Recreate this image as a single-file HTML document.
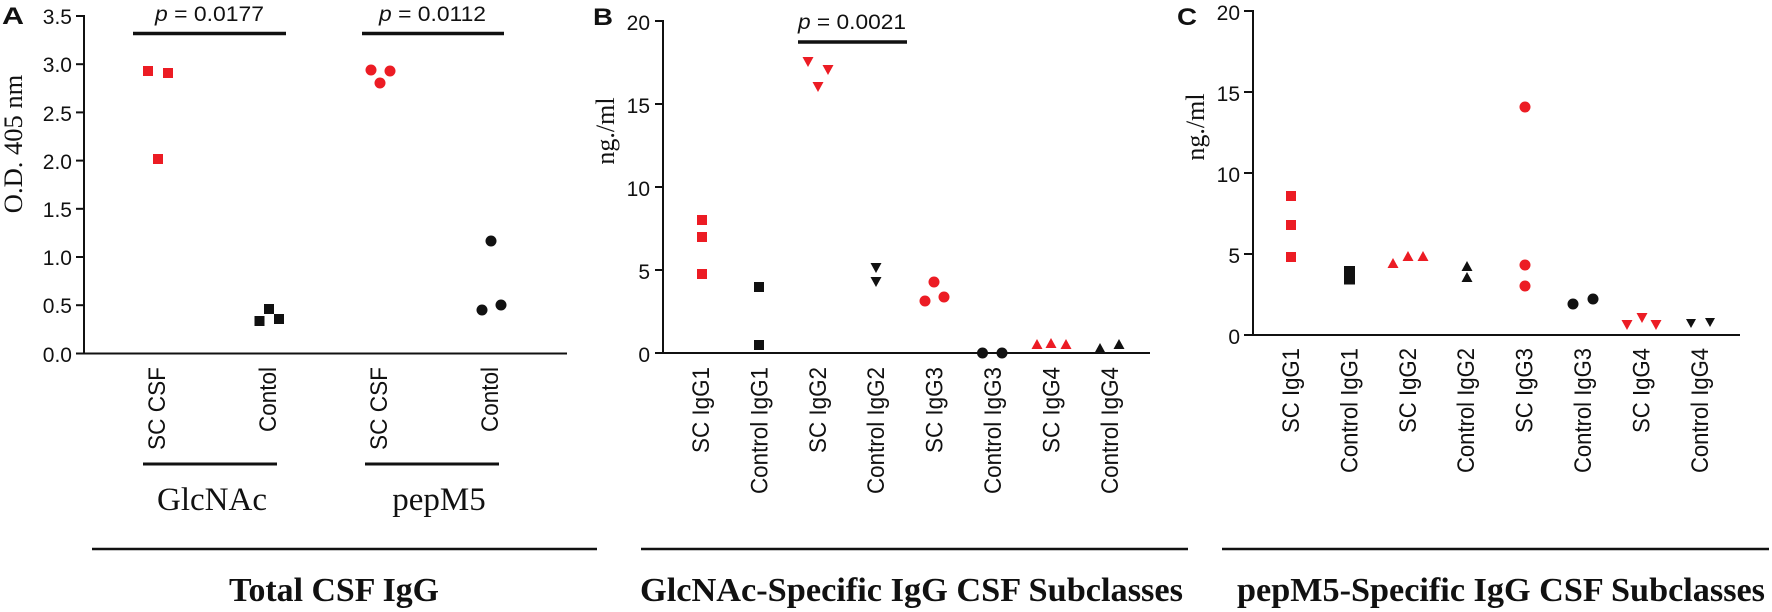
<!DOCTYPE html>
<html><head><meta charset="utf-8"><style>
html,body{margin:0;padding:0;background:#fff;}
svg{display:block;}
.t{font-family:"Liberation Sans",Arial,sans-serif;font-size:21px;fill:#111;}
.r{font-family:"Liberation Sans",Arial,sans-serif;font-size:24px;fill:#111;}
.s{font-family:"Liberation Serif","Times New Roman",serif;fill:#111;}
.b{font-family:"Liberation Serif","Times New Roman",serif;font-weight:bold;font-size:34px;fill:#111;}
.L{font-family:"Liberation Sans",Arial,sans-serif;font-weight:bold;font-size:24px;fill:#111;}
</style></head><body>
<svg width="1772" height="612" viewBox="0 0 1772 612" xmlns="http://www.w3.org/2000/svg">
<g stroke="#111" fill="none">
<line x1="84" y1="15" x2="84" y2="354.5" stroke-width="2"/>
<line x1="83" y1="353.5" x2="567" y2="353.5" stroke-width="2"/>
<line x1="76" y1="16" x2="84" y2="16" stroke-width="2"/>
<line x1="76" y1="64.2" x2="84" y2="64.2" stroke-width="2"/>
<line x1="76" y1="112.4" x2="84" y2="112.4" stroke-width="2"/>
<line x1="76" y1="160.6" x2="84" y2="160.6" stroke-width="2"/>
<line x1="76" y1="208.8" x2="84" y2="208.8" stroke-width="2"/>
<line x1="76" y1="257" x2="84" y2="257" stroke-width="2"/>
<line x1="76" y1="305.2" x2="84" y2="305.2" stroke-width="2"/>
<line x1="76" y1="353.5" x2="84" y2="353.5" stroke-width="2"/>
<line x1="133" y1="33.5" x2="286" y2="33.5" stroke-width="3.5"/>
<line x1="362" y1="33.5" x2="504" y2="33.5" stroke-width="3.5"/>
<line x1="143" y1="464" x2="277" y2="464" stroke-width="3"/>
<line x1="365" y1="464" x2="499" y2="464" stroke-width="3"/>
<line x1="92" y1="549" x2="597" y2="549" stroke-width="2.5"/>
<line x1="663" y1="20" x2="663" y2="354" stroke-width="2"/>
<line x1="662" y1="353" x2="1150" y2="353" stroke-width="2"/>
<line x1="655" y1="21" x2="663" y2="21" stroke-width="2"/>
<line x1="655" y1="104" x2="663" y2="104" stroke-width="2"/>
<line x1="655" y1="187" x2="663" y2="187" stroke-width="2"/>
<line x1="655" y1="270" x2="663" y2="270" stroke-width="2"/>
<line x1="655" y1="353" x2="663" y2="353" stroke-width="2"/>
<line x1="798" y1="42" x2="907" y2="42" stroke-width="3.5"/>
<line x1="641" y1="549" x2="1188" y2="549" stroke-width="2.5"/>
<line x1="1253" y1="10" x2="1253" y2="336" stroke-width="2"/>
<line x1="1252" y1="335" x2="1740" y2="335" stroke-width="2"/>
<line x1="1244" y1="11" x2="1253" y2="11" stroke-width="2"/>
<line x1="1244" y1="92" x2="1253" y2="92" stroke-width="2"/>
<line x1="1244" y1="173" x2="1253" y2="173" stroke-width="2"/>
<line x1="1244" y1="254" x2="1253" y2="254" stroke-width="2"/>
<line x1="1244" y1="335" x2="1253" y2="335" stroke-width="2"/>
<line x1="1222" y1="549" x2="1769" y2="549" stroke-width="2.5"/>
</g>

<text class="L" x="2" y="24" textLength="22" lengthAdjust="spacingAndGlyphs">A</text>
<text class="L" x="593" y="25" textLength="20" lengthAdjust="spacingAndGlyphs">B</text>
<text class="L" x="1177" y="25" textLength="20" lengthAdjust="spacingAndGlyphs">C</text>

<g class="t" text-anchor="end">
<text x="72" y="24">3.5</text>
<text x="72" y="72">3.0</text>
<text x="72" y="121">2.5</text>
<text x="72" y="169">2.0</text>
<text x="72" y="217">1.5</text>
<text x="72" y="265">1.0</text>
<text x="72" y="313">0.5</text>
<text x="72" y="362">0.0</text>
</g>
<text class="s" font-size="26.5" text-anchor="middle" transform="translate(22,144) rotate(-90)">O.D. 405 nm</text>
<text class="t" x="155" y="21" textLength="109" lengthAdjust="spacingAndGlyphs"><tspan font-style="italic">p</tspan> = 0.0177</text>
<text class="t" x="379" y="21" textLength="107" lengthAdjust="spacingAndGlyphs"><tspan font-style="italic">p</tspan> = 0.0112</text>

<g class="r" text-anchor="end" lengthAdjust="spacingAndGlyphs">
<text transform="translate(165,367) rotate(-90)" textLength="83" lengthAdjust="spacingAndGlyphs">SC CSF</text>
<text transform="translate(276,367) rotate(-90)" textLength="65" lengthAdjust="spacingAndGlyphs">Contol</text>
<text transform="translate(387,367) rotate(-90)" textLength="83" lengthAdjust="spacingAndGlyphs">SC CSF</text>
<text transform="translate(498,367) rotate(-90)" textLength="65" lengthAdjust="spacingAndGlyphs">Contol</text>
</g>
<text class="s" font-size="33" text-anchor="middle" x="212" y="510">GlcNAc</text>
<text class="s" font-size="33" text-anchor="middle" x="439" y="510">pepM5</text>
<text class="b" x="229" y="601" textLength="210" lengthAdjust="spacingAndGlyphs">Total CSF IgG</text>

<g fill="#ec1c24">
<rect x="143" y="66" width="10" height="10"/>
<rect x="163" y="68" width="10" height="10"/>
<rect x="153" y="154" width="10" height="10"/>
<circle cx="371" cy="70" r="5.5"/>
<circle cx="390" cy="71" r="5.5"/>
<circle cx="380" cy="83" r="5.5"/>
</g>
<g fill="#111">
<rect x="254.5" y="316" width="10" height="10"/>
<rect x="264" y="304" width="10" height="10"/>
<rect x="274" y="314" width="10" height="10"/>
<circle cx="491" cy="241" r="5.5"/>
<circle cx="482" cy="310" r="5.5"/>
<circle cx="501" cy="305" r="5.5"/>
</g>

<g class="t" text-anchor="end">
<text x="650" y="30">20</text>
<text x="650" y="113">15</text>
<text x="650" y="196">10</text>
<text x="650" y="279">5</text>
<text x="650" y="362">0</text>
</g>
<text class="s" font-size="26" text-anchor="middle" transform="translate(614,131) rotate(-90)">ng./ml</text>
<text class="t" x="798" y="29" textLength="108" lengthAdjust="spacingAndGlyphs"><tspan font-style="italic">p</tspan> = 0.0021</text>
<g class="r" text-anchor="end">
<text transform="translate(709,367) rotate(-90)" textLength="86" lengthAdjust="spacingAndGlyphs">SC IgG1</text>
<text transform="translate(767.4,367) rotate(-90)" textLength="127" lengthAdjust="spacingAndGlyphs">Control IgG1</text>
<text transform="translate(825.8,367) rotate(-90)" textLength="86" lengthAdjust="spacingAndGlyphs">SC IgG2</text>
<text transform="translate(884.2,367) rotate(-90)" textLength="127" lengthAdjust="spacingAndGlyphs">Control IgG2</text>
<text transform="translate(942.6,367) rotate(-90)" textLength="86" lengthAdjust="spacingAndGlyphs">SC IgG3</text>
<text transform="translate(1001,367) rotate(-90)" textLength="127" lengthAdjust="spacingAndGlyphs">Control IgG3</text>
<text transform="translate(1059.4,367) rotate(-90)" textLength="86" lengthAdjust="spacingAndGlyphs">SC IgG4</text>
<text transform="translate(1117.8,367) rotate(-90)" textLength="127" lengthAdjust="spacingAndGlyphs">Control IgG4</text>
</g>
<text class="b" x="640" y="601" textLength="543" lengthAdjust="spacingAndGlyphs">GlcNAc-Specific IgG CSF Subclasses</text>

<g fill="#ec1c24">
<rect x="697" y="215" width="10" height="10"/>
<rect x="697" y="232" width="10" height="10"/>
<rect x="697" y="269" width="10" height="10"/>
<polygon points="802.5,57 813.5,57 808,67"/>
<polygon points="822.5,65 833.5,65 828,75"/>
<polygon points="812.5,82 823.5,82 818,92"/>
<circle cx="934" cy="282" r="5.5"/>
<circle cx="925" cy="301" r="5.5"/>
<circle cx="944" cy="297" r="5.5"/>
<polygon points="1037,339 1031.5,349 1042.5,349"/>
<polygon points="1051,338 1045.5,348 1056.5,348"/>
<polygon points="1066,339 1060.5,349 1071.5,349"/>
</g>
<g fill="#111">
<rect x="754" y="282" width="10" height="10"/>
<rect x="754" y="340" width="10" height="10"/>
<polygon points="870.5,263 881.5,263 876,273"/>
<polygon points="870.5,277 881.5,277 876,287"/>
<circle cx="982.5" cy="353" r="5.5"/>
<circle cx="1002" cy="353" r="5.5"/>
<polygon points="1100,343 1094.5,353 1105.5,353"/>
<polygon points="1119,339 1113.5,349 1124.5,349"/>
</g>

<g class="t" text-anchor="end">
<text x="1240" y="20">20</text>
<text x="1240" y="101">15</text>
<text x="1240" y="182">10</text>
<text x="1240" y="263">5</text>
<text x="1240" y="344">0</text>
</g>
<text class="s" font-size="26" text-anchor="middle" transform="translate(1204,127) rotate(-90)">ng./ml</text>
<g class="r" text-anchor="end">
<text transform="translate(1299,348) rotate(-90)" textLength="85" lengthAdjust="spacingAndGlyphs">SC IgG1</text>
<text transform="translate(1357.4,348) rotate(-90)" textLength="125" lengthAdjust="spacingAndGlyphs">Control IgG1</text>
<text transform="translate(1415.8,348) rotate(-90)" textLength="85" lengthAdjust="spacingAndGlyphs">SC IgG2</text>
<text transform="translate(1474.2,348) rotate(-90)" textLength="125" lengthAdjust="spacingAndGlyphs">Control IgG2</text>
<text transform="translate(1532.6,348) rotate(-90)" textLength="85" lengthAdjust="spacingAndGlyphs">SC IgG3</text>
<text transform="translate(1591,348) rotate(-90)" textLength="125" lengthAdjust="spacingAndGlyphs">Control IgG3</text>
<text transform="translate(1649.4,348) rotate(-90)" textLength="85" lengthAdjust="spacingAndGlyphs">SC IgG4</text>
<text transform="translate(1707.8,348) rotate(-90)" textLength="125" lengthAdjust="spacingAndGlyphs">Control IgG4</text>
</g>
<text class="b" x="1237" y="601" textLength="528" lengthAdjust="spacingAndGlyphs">pepM5-Specific IgG CSF Subclasses</text>

<g fill="#ec1c24">
<rect x="1286" y="191" width="10" height="10"/>
<rect x="1286" y="220" width="10" height="10"/>
<rect x="1286" y="252" width="10" height="10"/>
<polygon points="1393,258 1387.5,268 1398.5,268"/>
<polygon points="1408,251 1402.5,261 1413.5,261"/>
<polygon points="1423,251 1417.5,261 1428.5,261"/>
<circle cx="1525" cy="107" r="5.5"/>
<circle cx="1525" cy="265" r="5.5"/>
<circle cx="1525" cy="286" r="5.5"/>
<polygon points="1621.5,320 1632.5,320 1627,330"/>
<polygon points="1636.5,313 1647.5,313 1642,323"/>
<polygon points="1650.5,320 1661.5,320 1656,330"/>
</g>
<g fill="#111">
<rect x="1344" y="266" width="11" height="18.5"/>
<polygon points="1467,261 1461.5,271 1472.5,271"/>
<polygon points="1467,272 1461.5,282 1472.5,282"/>
<circle cx="1573" cy="304" r="5.5"/>
<circle cx="1593" cy="299" r="5.5"/>
<polygon points="1686,319 1696,319 1691,328"/>
<polygon points="1705,318 1715,318 1710,327"/>
</g>
</svg>
</body></html>
